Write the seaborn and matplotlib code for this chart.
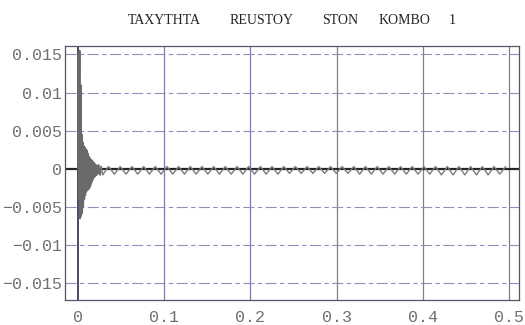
import numpy as np
import pandas as pd
import matplotlib
matplotlib.use("Agg")
import matplotlib.pyplot as plt
import seaborn as sns
from matplotlib.ticker import MultipleLocator

# ---- data ----
early_t = [0.0000, 0.0006, 0.0012, 0.0018, 0.0024, 0.0030, 0.0036, 0.0042, 0.0048,
           0.0054, 0.0060, 0.0066, 0.0072, 0.0078, 0.0084, 0.0090, 0.0096, 0.0102,
           0.0108, 0.0114, 0.0120, 0.0126, 0.0132, 0.0138, 0.0144, 0.0150, 0.0156,
           0.0162, 0.0168, 0.0174, 0.0180, 0.0186, 0.0192, 0.0198, 0.0204, 0.0210,
           0.0216, 0.0222, 0.0230, 0.0240, 0.0255, 0.0270]
early_v = [0.0000, 0.0150, -0.0040, 0.0155, -0.0065, 0.0110, -0.0062, 0.0045, -0.0058,
           0.0035, -0.0050, 0.0030, -0.0040, 0.0028, -0.0035, 0.0026, -0.0030, 0.0024,
           -0.0028, 0.0020, -0.0027, 0.0016, -0.0025, 0.0014, -0.0022, 0.0012, -0.0018,
           0.0011, -0.0015, 0.0009, -0.0012, 0.0008, -0.0010, 0.0006, -0.0009, 0.0005,
           -0.0008, 0.0004, -0.0006, 0.0005, -0.0008, 0.0003]

dip_t = [0.0286, 0.0422, 0.0557, 0.0693, 0.0828, 0.0964, 0.1099, 0.1235, 0.1370,
         0.1506, 0.1641, 0.1777, 0.1912, 0.2048, 0.2183, 0.2319, 0.2454, 0.2590,
         0.2725, 0.2861, 0.2996, 0.3132, 0.3267, 0.3403, 0.3538, 0.3674, 0.3809,
         0.3945, 0.4080, 0.4216, 0.4351, 0.4487, 0.4622, 0.4758, 0.4893]
dip_v = [-0.0008, -0.0007, -0.0007, -0.0007, -0.0007, -0.0007, -0.0007, -0.0007, -0.0007,
         -0.0007, -0.0007, -0.0007, -0.0007, -0.0007, -0.0007, -0.0007, -0.0006, -0.0006,
         -0.0006, -0.0006, -0.0006, -0.0006, -0.0007, -0.0007, -0.0007, -0.0007, -0.0007,
         -0.0007, -0.0007, -0.0008, -0.0008, -0.0008, -0.0008, -0.0008, -0.0007]
bump_t = [0.0354, 0.0490, 0.0625, 0.0761, 0.0896, 0.1032, 0.1167, 0.1303, 0.1438,
          0.1574, 0.1709, 0.1845, 0.1980, 0.2116, 0.2251, 0.2387, 0.2522, 0.2658,
          0.2793, 0.2929, 0.3064, 0.3200, 0.3335, 0.3471, 0.3606, 0.3742, 0.3877,
          0.4013, 0.4148, 0.4284, 0.4419, 0.4555, 0.4690, 0.4826, 0.4961]
bump_v = [0.0003] * 35

xticks = [0, 0.1, 0.2, 0.3, 0.4, 0.5]
xtick_labels = ["0", "0.1", "0.2", "0.3", "0.4", "0.5"]
yticks = [-0.015, -0.01, -0.005, 0, 0.005, 0.01, 0.015]
ytick_labels = ["\u22120.015", "\u22120.01", "\u22120.005", "0", "0.005", "0.01", "0.015"]
title_words = ["TAXYTHTA", "REUSTOY", "STON", "KOMBO", "1"]

# ---- build series ----
early_df = pd.DataFrame({"t": early_t, "v": early_v})
per_t, per_v = [], []
for dt, dv, bt, bv in zip(dip_t, dip_v, bump_t, bump_v):
    per_t += [dt, bt]
    per_v += [dv, bv]
per_df = pd.DataFrame({"t": [early_t[-1]] + per_t, "v": [early_v[-1]] + per_v})

sns.set_theme(style="white")
plt.rcParams["font.family"] = ["Liberation Mono", "DejaVu Sans"]

fig = plt.figure(figsize=(5.25, 3.25), dpi=100)
ax = fig.add_axes([65/525, 1-300/325, (519-65)/525, (300-46)/325])

grid_c = "#7c7ca8"
for x in xticks:
    ax.axvline(x, color=("#3c3c58" if x == 0 else grid_c), lw=(1.3 if x == 0 else 0.9), zorder=1)
for y in yticks:
    if y == 0:
        continue
    ax.axhline(y, color="#9090b8", lw=0.8, ls=(0, (10, 3, 4, 3)), zorder=1)
ax.axhline(0, color="#252525", lw=1.6, zorder=2)

sns.lineplot(data=early_df, x="t", y="v", ax=ax, estimator=None, sort=False,
             color="#6a6a6a", lw=1.3, zorder=3)
sns.lineplot(data=per_df, x="t", y="v", ax=ax, estimator=None, sort=False,
             color="#7a7a7a", lw=1.0, zorder=3)

ax.set_xlim(-0.0151, 0.5116)
ax.set_ylim(-0.0172, 0.0161)
ax.set_xticks(xticks)
ax.set_xticklabels(xtick_labels)
ax.set_yticks(yticks)
ax.set_yticklabels(ytick_labels)
ax.yaxis.set_minor_locator(MultipleLocator(0.001))
ax.tick_params(which="major", direction="in", length=5, width=0.8, color="#555555",
               labelsize=12, labelcolor="#707070", pad=7)
ax.tick_params(which="minor", direction="in", length=2.5, width=0.6, color="#555555")
ax.tick_params(axis="y", pad=2)
ax.set_xlabel("")
ax.set_ylabel("")
for s in ax.spines.values():
    s.set_color("#55556a")
    s.set_linewidth(0.9)

centers = [164, 262, 340, 404, 452]
for w, cx in zip(title_words, centers):
    fig.text(cx/525, 1-20/325, w, ha="center", va="center",
             fontsize=10, family="Liberation Serif", color="#222222")

fig.savefig("out.png", dpi=100)
